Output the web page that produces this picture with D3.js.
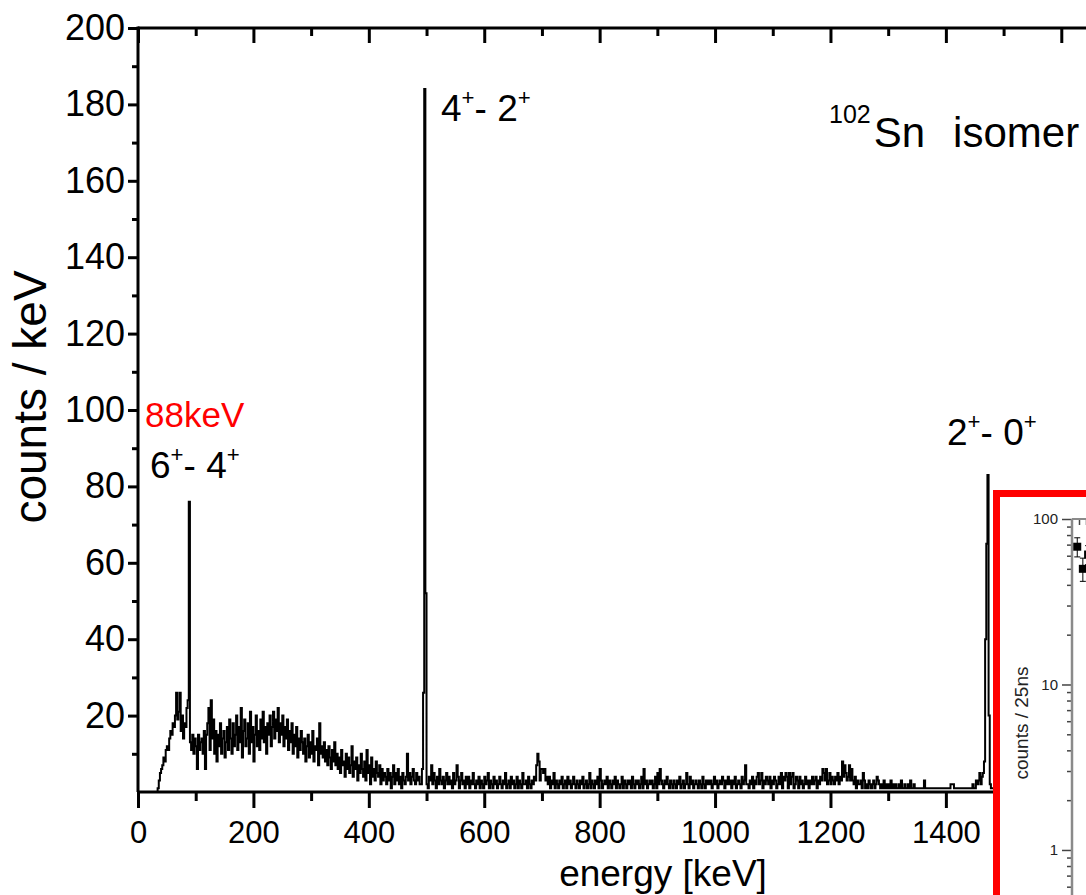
<!DOCTYPE html>
<html>
<head>
<meta charset="utf-8">
<script src="https://cdn.jsdelivr.net/npm/d3@7"></script>
<style>
  body { margin: 0; background: #fff; }
  svg { display: block; }
</style>
</head>
<body>
<div id="chart"></div>
<script>

// spectrum, 2 keV bins starting at 30 keV
const binStart = 30;
const binWidth = 2;

const countsA = [ // 30 - 228 keV
  0,0,1,3,5,6,7,9,8,11,
  12,11,14,16,15,18,17,20,26,19,
  21,26,16,20,14,18,17,22,24,76,
  13,11,15,10,14,12,6,15,11,13,
  14,10,16,6,15,18,22,11,24,14,
  19,10,16,8,15,12,18,10,14,16,
  9,13,17,11,19,14,10,18,12,15,
  20,11,17,13,22,9,16,19,12,14,
  18,10,21,13,17,8,15,20,12,16,
  11,19,14,21,13,17,10,18,15,20
];
const countsB = [ // 230 - 428 keV
  12,17,21,14,19,16,22,13,18,15,
  20,12,17,14,19,11,16,13,18,10,
  15,12,17,9,14,11,16,13,10,14,
  8,12,15,9,13,10,16,8,12,11,
  14,7,18,10,12,9,13,8,11,7,
  12,9,6,11,8,13,7,10,6,9,
  5,11,7,8,4,10,6,9,5,7,
  12,4,8,6,9,3,7,5,10,6,
  4,8,3,11,5,7,2,9,4,6,
  3,8,5,4,7,2,6,3,5,4
];
const countsC = [ // 430 - 628 keV
  2,6,3,5,1,4,7,2,5,3,
  6,2,4,1,5,3,2,4,10,3,
  5,2,4,6,3,2,5,3,4,2,
  2,6,26,184,52,2,1,4,3,7,
  2,5,3,1,4,2,6,3,2,4,
  1,3,5,2,4,2,3,1,5,2,
  3,7,4,1,3,5,2,3,1,4,
  2,4,1,3,2,5,2,1,3,2,
  4,1,3,2,1,4,2,3,5,1,
  3,2,1,4,2,3,1,2,4,2
];
const countsD = [ // 630 - 828 keV
  1,3,2,5,1,2,3,1,4,2,
  3,1,2,4,1,3,2,1,5,2,
  2,3,1,4,2,1,3,2,4,3,
  7,10,8,3,6,6,5,6,3,4,
  2,4,1,3,2,5,1,3,2,1,
  3,2,4,1,2,3,1,4,2,3,
  1,2,4,2,1,3,2,1,3,2,
  4,1,2,3,1,2,5,1,3,2,
  1,3,2,4,1,6,3,1,2,3,
  2,4,1,3,2,1,3,2,4,1
];
const countsE = [ // 830 - 1028 keV
  3,2,1,2,4,1,3,2,1,3,
  2,3,1,4,2,1,3,2,3,1,
  2,4,1,6,2,3,1,2,3,2,
  3,1,2,4,1,5,2,6,3,2,
  1,3,2,4,2,1,3,2,1,3,
  2,1,3,2,4,1,2,3,1,2,
  5,2,1,4,2,3,1,2,3,2,
  1,3,2,1,4,2,1,3,2,3,
  2,3,1,2,4,2,3,1,2,3,
  2,4,3,1,3,2,4,2,3,1
];
const countsF = [ // 1030 - 1228 keV
  3,2,4,1,2,3,2,1,4,2,
  3,7,2,2,1,3,2,4,1,3,
  2,4,5,2,3,5,1,3,2,4,
  3,2,4,1,3,2,4,3,1,2,
  4,2,5,1,4,3,5,4,1,5,
  2,4,5,1,2,4,3,1,4,2,
  3,1,2,4,2,3,1,3,2,4,
  2,3,4,1,3,2,4,3,6,5,
  3,6,2,3,5,2,4,3,2,4,
  3,5,2,4,3,8,4,7,5,3
];
const countsG = [ // 1230 - 1428 keV
  4,7,3,6,3,2,4,1,3,2,
  2,3,1,5,3,1,2,1,3,2,
  1,2,3,1,2,4,3,2,1,2,
  1,3,1,2,1,2,1,3,1,2,
  1,2,1,1,2,1,3,1,1,2,
  1,1,2,1,3,1,1,2,1,1,
  1,1,1,1,1,1,3,1,1,1,
  1,1,1,1,1,1,1,1,1,1,
  1,1,1,1,1,1,1,1,1,2,
  2,2,1,1,1,1,1,1,1,1
];
const countsH = [ // 1430 - 1508 keV
  1,1,1,1,1,1,1,1,2,1,
  1,3,2,3,5,2,4,5,8,40,
  65,83,20,2,1,1,1,1,1,1,
  1,1,1,1,1,1,1,1,1,1
];

// axis ticks
const xLabelled = [0, 200, 400, 600, 800, 1000, 1200, 1400];
const xMajor = [0, 200, 400, 600, 800, 1000, 1200, 1400, 1600];
const xMinor = [100, 300, 500, 700, 900, 1100, 1300, 1500, 1700];
const yMajor = [20, 40, 60, 80, 100, 120, 140, 160, 180, 200];
const yMinor = [10, 30, 50, 70, 90, 110, 130, 150, 170, 190];

// inset: decay curve (log scale)
const insetTime = [15, 31, 46];
const insetCounts = [68, 50, 61];
const insetErr = [9, 8, 8];
const insetMajor = [1, 10, 100];
const insetMinor = [0.4, 0.5, 0.6, 0.7, 0.8, 0.9, 2, 3, 4, 5, 6, 7, 8, 9, 20, 30, 40, 50, 60, 70, 80, 90];
const insetTop = [20, 40, 60, 80, 100];

const FONT = "'Liberation Sans', Arial, Helvetica, sans-serif";

const counts = [].concat(countsA, countsB, countsC, countsD, countsE, countsF, countsG, countsH);
const spectrum = counts.map((c, i) => [binStart + i * binWidth, c]);
spectrum.push([binStart + counts.length * binWidth, counts[counts.length - 1]]);

const svg = d3.select("#chart").append("svg")
  .attr("width", 1086)
  .attr("height", 895)
  .attr("font-family", FONT);

svg.append("rect").attr("width", 1086).attr("height", 895).attr("fill", "#fff");

const x = d3.scaleLinear().domain([0, 1700]).range([138, 1119]);
const y = d3.scaleLinear().domain([0, 200]).range([792, 28]);

// spectrum as a step histogram
svg.append("path")
  .datum(spectrum)
  .attr("d", d3.line()
    .x(d => x(d[0]))
    .y(d => y(d[1]))
    .curve(d3.curveStepAfter))
  .attr("fill", "none")
  .attr("stroke", "#000")
  .attr("stroke-width", 2);

function tidy(g, size) {
  g.select(".domain").remove();
  g.attr("font-family", FONT).attr("font-size", size);
  g.selectAll(".tick line").attr("stroke", "#000").attr("stroke-width", 3);
  g.selectAll(".tick text").attr("fill", "#000");
}

// bottom axis (ticks outward)
svg.append("g")
  .attr("transform", `translate(0,${y(0)})`)
  .call(d3.axisBottom(x).tickValues(xLabelled).tickSize(16).tickPadding(13).tickFormat(d3.format("d")))
  .call(g => tidy(g, 31));
svg.append("g")
  .attr("transform", `translate(0,${y(0)})`)
  .call(d3.axisBottom(x).tickValues(xMinor).tickSize(9).tickFormat(""))
  .call(g => tidy(g, 31));

// top axis (ticks inward)
svg.append("g")
  .attr("transform", `translate(0,${y(200)})`)
  .call(d3.axisTop(x).tickValues(xMajor).tickSize(-15).tickFormat(""))
  .call(g => tidy(g, 31));
svg.append("g")
  .attr("transform", `translate(0,${y(200)})`)
  .call(d3.axisTop(x).tickValues(xMinor).tickSize(-8).tickFormat(""))
  .call(g => tidy(g, 31));

// left axis (ticks outward)
svg.append("g")
  .attr("transform", `translate(${x(0)},0)`)
  .call(d3.axisLeft(y).tickValues(yMajor).tickSize(10).tickPadding(3))
  .call(g => tidy(g, 36));
svg.append("g")
  .attr("transform", `translate(${x(0)},0)`)
  .call(d3.axisLeft(y).tickValues(yMinor).tickSize(6).tickFormat(""))
  .call(g => tidy(g, 36));

// frame lines
svg.append("line")
  .attr("x1", x(0)).attr("x2", x(0))
  .attr("y1", y(200) - 1.5).attr("y2", y(0))
  .attr("stroke", "#000").attr("stroke-width", 3);
svg.append("line")
  .attr("x1", x(0)).attr("x2", x(1700))
  .attr("y1", y(200)).attr("y2", y(200))
  .attr("stroke", "#000").attr("stroke-width", 3);
svg.append("line")
  .attr("x1", x(0)).attr("x2", x(1700))
  .attr("y1", y(0)).attr("y2", y(0))
  .attr("stroke", "#000").attr("stroke-width", 3);

// axis titles
svg.append("text")
  .attr("x", 663).attr("y", 886)
  .attr("text-anchor", "middle")
  .attr("font-size", 37)
  .text("energy [keV]");
svg.append("text")
  .attr("transform", "translate(46,397) rotate(-90)")
  .attr("text-anchor", "middle")
  .attr("font-size", 46)
  .text("counts / keV");

// transition labels like 4+- 2+
function transition(px, py, a, b, size) {
  const t = svg.append("text").attr("x", px).attr("y", py).attr("font-size", size);
  const sup = size * 0.6, up = size * 0.42;
  t.append("tspan").text(a);
  t.append("tspan").attr("font-size", sup).attr("dy", -up).text("+");
  t.append("tspan").attr("dy", up).text("- " + b);
  t.append("tspan").attr("font-size", sup).attr("dy", -up).text("+");
}

svg.append("text")
  .attr("x", 145).attr("y", 427)
  .attr("font-size", 35)
  .attr("fill", "#ff0000")
  .text("88keV");
transition(150, 478, "6", "4", 37);
transition(441, 121, "4", "2", 37);
transition(947, 445, "2", "0", 37);

// nucleus title
const title = svg.append("text").attr("x", 829).attr("y", 147).attr("font-size", 42);
title.append("tspan").attr("font-size", 25).attr("dy", -24).text("102");
title.append("tspan").attr("dy", 24).attr("dx", 3).text("Sn");
title.append("tspan").attr("dx", 28).text("isomer");

// ---- inset (half-life curve), clipped by the window ----
svg.append("rect")
  .attr("x", 996.5).attr("y", 493.5)
  .attr("width", 300).attr("height", 500)
  .attr("fill", "#fff")
  .attr("stroke", "#ff0000")
  .attr("stroke-width", 7);

const tx = d3.scaleLinear().domain([0, 400]).range([1072, 1212]);
const ly = d3.scaleLog().domain([0.3, 100]).range([936.5, 519]);

function tidyInset(g) {
  g.select(".domain").remove();
  g.attr("font-family", FONT).attr("font-size", 15);
  g.selectAll(".tick line").attr("stroke", "#444").attr("stroke-width", 1.5);
  g.selectAll(".tick text").attr("fill", "#222");
}

svg.append("g")
  .attr("transform", `translate(${tx(0)},0)`)
  .call(d3.axisLeft(ly).tickValues(insetMajor).tickSize(10).tickPadding(4).tickFormat(d3.format("d")))
  .call(tidyInset);
svg.append("g")
  .attr("transform", `translate(${tx(0)},0)`)
  .call(d3.axisLeft(ly).tickValues(insetMinor).tickSize(5).tickFormat(""))
  .call(tidyInset);
svg.append("g")
  .attr("transform", `translate(0,${ly(100)})`)
  .call(d3.axisTop(tx).tickValues(insetTop).tickSize(-6).tickFormat(""))
  .call(tidyInset);

svg.append("line")
  .attr("x1", tx(0)).attr("x2", tx(0))
  .attr("y1", ly(100)).attr("y2", ly(0.3))
  .attr("stroke", "#8a8a8a").attr("stroke-width", 2.5);
svg.append("line")
  .attr("x1", tx(0)).attr("x2", tx(400))
  .attr("y1", ly(100)).attr("y2", ly(100))
  .attr("stroke", "#8a8a8a").attr("stroke-width", 2);

svg.append("text")
  .attr("transform", "translate(1028,723) rotate(-90)")
  .attr("text-anchor", "middle")
  .attr("font-size", 19)
  .attr("fill", "#222")
  .text("counts / 25ns");

const pts = svg.append("g");
insetTime.forEach((t, i) => {
  const cx = tx(t), lo = ly(insetCounts[i] - insetErr[i]), hi = ly(insetCounts[i] + insetErr[i]);
  pts.append("line").attr("x1", cx).attr("x2", cx).attr("y1", lo).attr("y2", hi)
    .attr("stroke", "#000").attr("stroke-width", 1);
  pts.append("line").attr("x1", cx - 3).attr("x2", cx + 3).attr("y1", hi).attr("y2", hi)
    .attr("stroke", "#000").attr("stroke-width", 1);
  pts.append("line").attr("x1", cx - 3).attr("x2", cx + 3).attr("y1", lo).attr("y2", lo)
    .attr("stroke", "#000").attr("stroke-width", 1);
  pts.append("rect")
    .attr("x", cx - 4).attr("y", ly(insetCounts[i]) - 4)
    .attr("width", 8).attr("height", 8)
    .attr("fill", "#000");
});

</script>
</body>
</html>
